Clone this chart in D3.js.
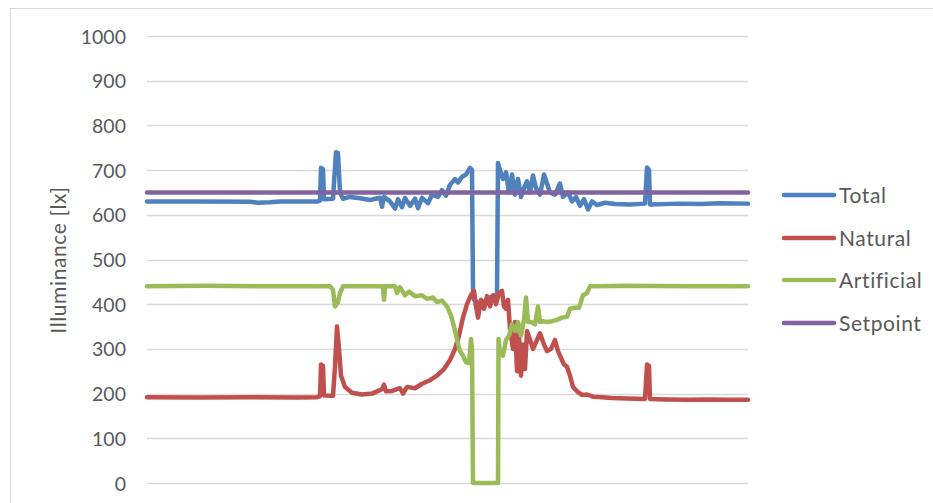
<!DOCTYPE html>
<html>
<head>
<meta charset="utf-8">
<script src="https://cdn.jsdelivr.net/npm/d3@7"></script>
<style>
  html, body { margin: 0; padding: 0; background: #fff; }
  svg { display: block; }
  text { font-family: Lato, "Open Sans", sans-serif; fill: #595959; }
</style>
</head>
<body>
<svg id="chart" width="933" height="503"></svg>
<script>
// ---- data (time index in arbitrary sample units, illuminance in lx) ----
const seriesNames = ["Total", "Natural", "Artificial", "Setpoint"];
const yTicks = [0, 100, 200, 300, 400, 500, 600, 700, 800, 900, 1000];

const totalT = [0, 53, 103, 111, 123, 133, 171, 173, 174, 176, 177, 186, 189, 191, 193, 196, 203, 213, 223, 233, 235, 237, 243, 248, 251, 255, 258, 263, 268, 271, 275, 281, 285, 291, 295, 299, 303, 308, 311, 315, 319, 323, 325, 326, 327, 333, 343, 350, 351, 353, 356, 359, 362, 365, 368, 371, 374, 377, 380, 383, 386, 389, 393, 397, 400, 403, 408, 413, 416, 421, 425, 429, 433, 437, 441, 445, 450, 458, 468, 483, 498, 500, 502, 503, 533, 553, 573, 601];
const totalV = [630, 630, 629, 627, 628, 630, 630, 632, 705, 702, 635, 636, 740, 738, 650, 636, 640, 637, 633, 638, 618, 640, 630, 614, 635, 617, 638, 620, 636, 615, 638, 626, 645, 640, 655, 643, 667, 680, 672, 685, 690, 705, 700, 432, 410, 400, 415, 420, 716, 700, 680, 695, 650, 690, 645, 680, 640, 660, 675, 650, 688, 660, 645, 690, 670, 650, 645, 670, 640, 650, 630, 640, 620, 635, 612, 630, 622, 627, 624, 623, 625, 706, 700, 623, 625, 624, 626, 625];

const naturalT = [0, 50, 100, 150, 170, 173, 174, 176, 177, 186, 188, 190, 192, 194, 198, 205, 215, 225, 235, 237, 239, 245, 253, 256, 260, 268, 275, 283, 290, 297, 303, 308, 312, 316, 320, 324, 327, 329, 331, 334, 337, 340, 343, 346, 349, 352, 355, 357, 359, 361, 363, 366, 368, 370, 372, 374, 376, 378, 380, 383, 386, 390, 393, 397, 400, 404, 408, 411, 414, 417, 420, 423, 426, 430, 435, 440, 446, 455, 465, 480, 498, 500, 502, 503, 520, 540, 560, 580, 601];
const naturalV = [192, 191, 192, 191, 192, 194, 265, 262, 196, 195, 260, 350, 300, 240, 215, 202, 198, 200, 210, 220, 205, 206, 212, 200, 215, 212, 222, 230, 240, 255, 275, 300, 330, 370, 400, 420, 430, 395, 370, 410, 390, 418, 395, 420, 400, 425, 430, 395, 390, 410, 345, 300, 360, 250, 330, 240, 310, 255, 340, 320, 300, 320, 335, 310, 295, 300, 320, 295, 280, 265, 260, 240, 215, 205, 197, 198, 193, 192, 190, 189, 188, 265, 262, 188, 187, 186, 187, 186, 186];

const artificialT = [0, 60, 120, 183, 186, 188, 191, 193, 196, 236, 237, 238, 248, 250, 253, 258, 262, 268, 275, 280, 286, 290, 295, 300, 304, 307, 310, 313, 316, 319, 322, 324, 325, 326, 351, 351.5, 353, 356, 359, 362, 365, 368, 371, 374, 377, 379, 381, 384, 388, 391, 393, 396, 400, 405, 410, 415, 420, 423, 428, 432, 436, 440, 443, 450, 480, 540, 601];
const artificialV = [440, 441, 440, 440, 432, 395, 405, 425, 440, 440, 410, 440, 440, 425, 438, 420, 428, 418, 420, 412, 415, 405, 408, 395, 375, 350, 320, 295, 285, 270, 268, 322, 300, 0, 0, 322, 290, 285, 320, 330, 355, 340, 360, 330, 365, 415, 360, 360, 355, 395, 360, 362, 360, 362, 365, 370, 372, 390, 392, 392, 420, 425, 440, 440, 441, 440, 440];

const setpointT = [0, 601];
const setpointV = [650, 650];

const colors = ["#4F81BD", "#C0504D", "#9BBB59", "#8064A2"];

// ---- chart ----
const svg = d3.select("#chart");

// outer chart border
svg.append("rect")
  .attr("x", 10.5).attr("y", 8.5)
  .attr("width", 940).attr("height", 520)
  .attr("fill", "none").attr("stroke", "#d9d9d9").attr("stroke-width", 1);

const x = d3.scaleLinear().domain([0, 601]).range([147, 748]);
const y = d3.scaleLinear().domain([0, 1000]).range([483, 36]);

// gridlines
svg.append("g")
  .selectAll("line")
  .data(yTicks)
  .join("line")
  .attr("x1", 147).attr("x2", 748)
  .attr("y1", d => Math.round(y(d)) + 0.5).attr("y2", d => Math.round(y(d)) + 0.5)
  .attr("stroke", "#d9d9d9").attr("stroke-width", 1.3);

// y axis labels
const yAxis = d3.axisLeft(y).tickValues(yTicks).tickFormat(d3.format("d")).tickSize(0).tickPadding(0);
const gy = svg.append("g").attr("transform", "translate(126,0)").call(yAxis);
gy.select(".domain").remove();
gy.selectAll("text")
  .style("font-family", "Lato, 'Open Sans', sans-serif")
  .style("font-size", "19.5px")
  .attr("fill", "#595959")
  .attr("dy", "0.36em");

// y axis title
svg.append("text")
  .attr("transform", "translate(66,260) rotate(-90)")
  .attr("text-anchor", "middle")
  .style("font-size", "21px")
  .style("letter-spacing", "0.6px")
  .text("Illuminance [lx]");

// series
const seriesData = [
  { name: seriesNames[0], t: totalT, v: totalV },
  { name: seriesNames[1], t: naturalT, v: naturalV },
  { name: seriesNames[2], t: artificialT, v: artificialV },
  { name: seriesNames[3], t: setpointT, v: setpointV }
];

const line = d3.line()
  .x(d => x(d[0]))
  .y(d => y(d[1]));

svg.append("g")
  .selectAll("path")
  .data(seriesData)
  .join("path")
  .attr("d", s => line(s.t.map((t, i) => [t, s.v[i]])))
  .attr("fill", "none")
  .attr("stroke", (s, i) => colors[i])
  .attr("stroke-width", 4.5)
  .attr("stroke-linejoin", "round")
  .attr("stroke-linecap", "round");

// legend
const legendY = [195, 238, 280, 323];
const lg = svg.append("g")
  .selectAll("g")
  .data(seriesNames)
  .join("g")
  .attr("transform", (d, i) => `translate(0,${legendY[i]})`);
lg.append("line")
  .attr("x1", 784).attr("x2", 834)
  .attr("y1", 0).attr("y2", 0)
  .attr("stroke", (d, i) => colors[i])
  .attr("stroke-width", 4.5)
  .attr("stroke-linecap", "round");
lg.append("text")
  .attr("x", 839).attr("y", 0).attr("dy", "0.36em")
  .style("font-size", "21px")
  .style("letter-spacing", "0.6px")
  .text(d => d);
</script>
</body>
</html>
